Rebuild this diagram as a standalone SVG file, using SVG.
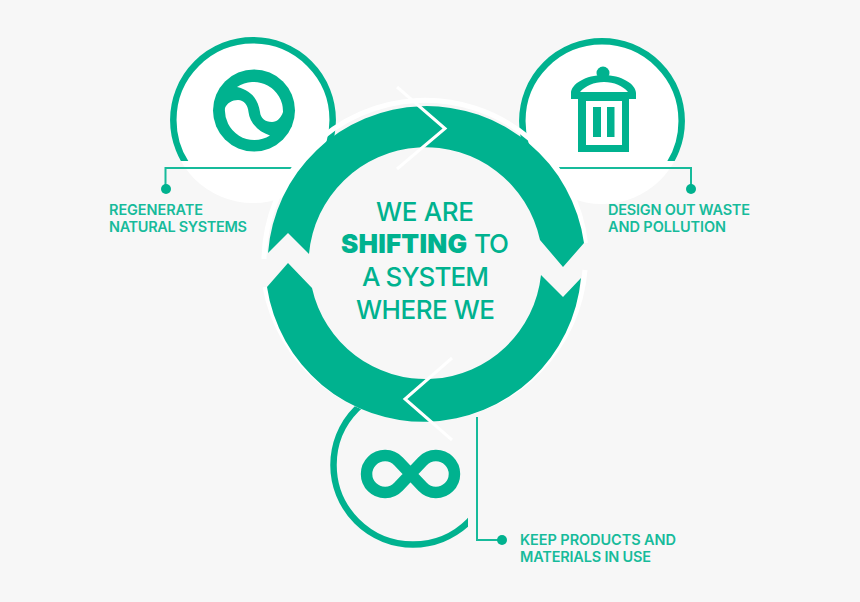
<svg xmlns="http://www.w3.org/2000/svg" width="860" height="602" viewBox="0 0 860 602">
<defs>
<style>
.g{fill:#00b28f}
.w{fill:#fff}
.ringline{fill:none;stroke:#00b28f;stroke-width:6.5}
.conn{fill:none;stroke:#17bb9b;stroke-width:2}
.halo{fill:none;stroke:#fff;stroke-width:5}
.chev{fill:none;stroke:#fff;stroke-width:3}
.big{font-family:"Inter","Liberation Sans",sans-serif;font-size:26px;font-weight:500;fill:#00b28f}
.small{font-family:"Inter","Liberation Sans",sans-serif;font-size:14.5px;font-weight:600;fill:#17bb9b}
</style>
<clipPath id="clipTop"><rect x="0" y="0" width="860" height="161"/></clipPath>
<clipPath id="clipBottom"><rect x="300" y="380" width="168" height="200"/></clipPath>
</defs>
<rect width="860" height="602" fill="#f7f7f7"/>
<g id="node-regenerate">
<circle class="w" cx="253" cy="120" r="83"/>
<circle class="ringline" cx="253" cy="120" r="79.7" clip-path="url(#clipTop)"/>
<circle class="g" cx="254" cy="110.5" r="41"/>
<path class="w" d="M225 108C227 103 232 100 238 100C244 100 248 105 248.500 112C249.500 122 258 132 270 135.500A29.500 29.500 0 0 1 225 108Z"/>
<path class="w" d="M237 87A29.500 29.500 0 0 1 283 112C281 118 277 122 272 122C265 122 260.500 118 260 112C258 98 250 90 237 87Z"/>
</g>
<g id="node-design">
<circle class="w" cx="602" cy="121" r="83"/>
<circle class="ringline" cx="602" cy="121" r="79.7" clip-path="url(#clipTop)"/>
<circle class="g" cx="603" cy="73" r="6.500"/>
<path class="g" d="M571 99V93C571 84 586 75 603.500 75C621 75 636 84 636 93V99H629V152H578V99Z"/>
<path class="w" d="M580 92C585 86 594 82 604 82C614 82 623 86 628 92Z"/>
<rect class="w" x="586" y="101" width="36" height="44"/>
<rect class="g" x="593" y="107" width="8" height="30"/>
<rect class="g" x="607" y="107" width="7.500" height="30"/>
</g>
<g id="node-keep">
<circle class="ringline" cx="413" cy="465" r="79.500" clip-path="url(#clipBottom)"/>
<path fill="none" stroke="#00b28f" stroke-width="11.500" d="M398.400 461.200L422.600 486.800A18.500 18.500 0 1 0 422.600 461.200L398.400 486.800A18.500 18.500 0 1 1 398.400 461.200Z"/>
</g>
<g id="connectors">
<path class="conn" d="M293 168H165.500V189"/>
<circle class="g" cx="166" cy="189" r="5"/>
<path class="conn" d="M559 168H691V189"/>
<circle class="g" cx="691" cy="189" r="5"/>
<path class="conn" d="M477 417V540H502"/>
<circle class="g" cx="502" cy="540" r="5"/>
</g>
<g id="node-cycle">
<path class="halo" d="M264 259A161.300 161.300 0 0 1 585.500 243"/>
<path class="halo" d="M585 270A161.600 161.600 0 0 1 265 287"/>
<path class="g" d="M268 253A159 159 0 0 1 584 243L563 267L540 240A117 117 0 0 0 309 254L288 233Z"/>
<path class="g" d="M581 278A158.200 158.200 0 0 1 267 287L288 263L312 288A116.200 116.200 0 0 0 541 275L563 297Z"/>
<path class="chev" d="M397 87L445 128.500L397 169"/>
<path class="chev" d="M452 358L405 399L452 440"/>
</g>
<g id="node-center">
<text class="big" x="376" y="221" textLength="98">WE ARE</text>
<text class="big" x="341" y="253" textLength="126" style="font-weight:900">SHIFTING</text>
<text class="big" x="474" y="253" textLength="35">TO</text>
<text class="big" x="362" y="286" textLength="127">A SYSTEM</text>
<text class="big" x="356" y="319" textLength="139">WHERE WE</text>
</g>
<g id="labels">
<text class="small" x="109" y="215" textLength="94">REGENERATE</text>
<text class="small" x="109" y="232" textLength="138">NATURAL SYSTEMS</text>
<text class="small" x="608" y="215" textLength="142">DESIGN OUT WASTE</text>
<text class="small" x="608" y="232" textLength="118">AND POLLUTION</text>
<text class="small" x="520" y="545" textLength="156">KEEP PRODUCTS AND</text>
<text class="small" x="520" y="562" textLength="131">MATERIALS IN USE</text>
</g>
</svg>
